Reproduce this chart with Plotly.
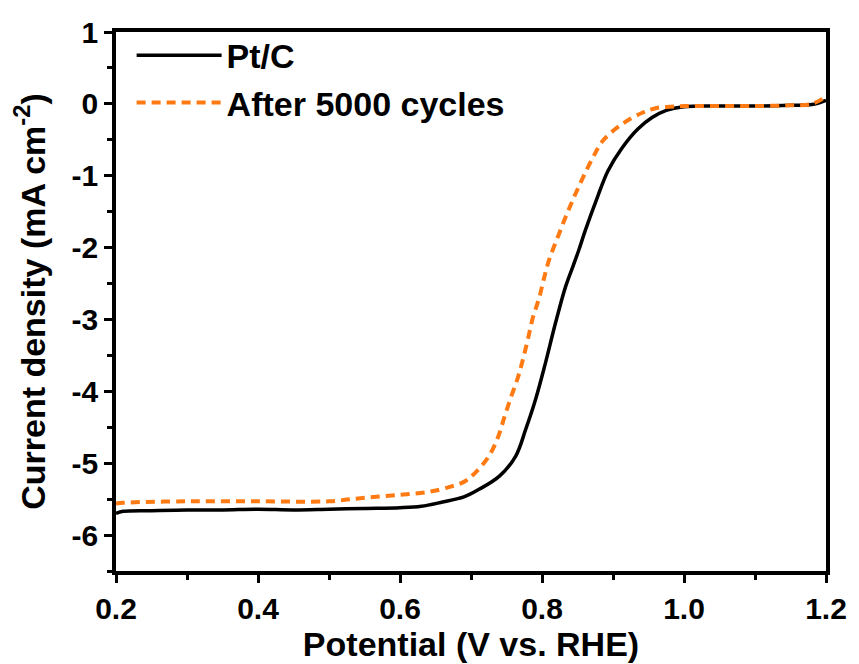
import plotly.graph_objects as go

# ---- data ----
ptc_v = [0.200, 0.210, 0.250, 0.300, 0.350, 0.400, 0.450, 0.500, 0.550, 0.600,
         0.630, 0.660, 0.690, 0.712, 0.740, 0.763, 0.777, 0.791, 0.805, 0.819,
         0.833, 0.844, 0.852, 0.861, 0.878, 0.893, 0.913, 0.935, 0.955, 0.975,
         1.000, 1.050, 1.100, 1.150, 1.180, 1.200]
ptc_j = [-5.70, -5.67, -5.66, -5.65, -5.65, -5.64, -5.65, -5.64, -5.63, -5.62,
         -5.60, -5.54, -5.47, -5.36, -5.18, -4.90, -4.53, -4.11, -3.60, -3.05,
         -2.55, -2.25, -2.03, -1.76, -1.30, -0.93, -0.61, -0.35, -0.19, -0.09,
         -0.04, -0.03, -0.03, -0.02, -0.01, 0.05]

aged_v = [0.200, 0.210, 0.300, 0.400, 0.500, 0.550, 0.600, 0.640, 0.670, 0.690,
          0.701, 0.724, 0.738, 0.747, 0.756, 0.766, 0.773, 0.780, 0.787, 0.796,
          0.803, 0.810, 0.822, 0.833, 0.845, 0.857, 0.871, 0.886, 0.913, 0.942,
          0.960, 0.980, 1.000, 1.100, 1.150, 1.180, 1.200]
aged_j = [-5.56, -5.55, -5.53, -5.53, -5.53, -5.48, -5.44, -5.40, -5.33, -5.26,
          -5.18, -4.92, -4.64, -4.36, -4.09, -3.81, -3.56, -3.28, -2.98, -2.70,
          -2.42, -2.17, -1.86, -1.58, -1.30, -1.04, -0.76, -0.51, -0.28, -0.12,
          -0.06, -0.04, -0.03, -0.03, -0.02, 0.00, 0.10]

x_ticks = [0.2, 0.4, 0.6, 0.8, 1.0, 1.2]
x_ticktext = ["0.2", "0.4", "0.6", "0.8", "1.0", "1.2"]
y_ticks = [1, 0, -1, -2, -3, -4, -5, -6]
y_ticktext = ["1", "0", "-1", "-2", "-3", "-4", "-5", "-6"]

series_names = ["Pt/C", "After 5000 cycles"]

FONT = "Liberation Sans, Arial, sans-serif"

fig = go.Figure()
fig.add_trace(go.Scatter(x=ptc_v, y=ptc_j, mode="lines", name=series_names[0],
                         line=dict(color="black", width=3.5, shape="spline")))
fig.add_trace(go.Scatter(x=aged_v, y=aged_j, mode="lines", name=series_names[1],
                         line=dict(color="#FF7A12", width=4, dash="9px,6px",
                                   shape="spline")))

axis_common = dict(
    showline=True, linecolor="black", linewidth=3.5, mirror=True,
    ticks="outside", ticklen=8, tickwidth=3, tickcolor="black",
    showgrid=False, zeroline=False,
    tickfont=dict(family=FONT, size=30, color="black", weight="bold"),
)

fig.update_xaxes(
    range=[0.2, 1.2], tickvals=x_ticks, ticktext=x_ticktext,
    minor=dict(ticks="outside", ticklen=5, tickwidth=3, tickcolor="black", dtick=0.1,
               tick0=0.2, showgrid=False),
    title=dict(text="Potential (V vs. RHE)",
               font=dict(family=FONT, size=34, color="black", weight="bold"),
               standoff=3),
    **axis_common,
)
fig.update_yaxes(
    range=[-6.5, 1], tickvals=y_ticks, ticktext=y_ticktext,
    minor=dict(ticks="outside", ticklen=5, tickwidth=3, tickcolor="black", dtick=0.5,
               tick0=0, showgrid=False),
    title=dict(text="Current density (mA cm<sup>-2</sup>)",
               font=dict(family=FONT, size=34, color="black", weight="bold"),
               standoff=17),
    **axis_common,
)

fig.update_layout(
    width=859, height=664,
    margin=dict(l=116, r=26, t=32, b=91),
    paper_bgcolor="white", plot_bgcolor="white",
    showlegend=True,
    legend=dict(x=0.022, y=1.01, xanchor="left", yanchor="top",
                bgcolor="rgba(0,0,0,0)", itemwidth=85,
                font=dict(family=FONT, size=34, color="black", weight="bold")),
)

fig.write_html("out.html")
